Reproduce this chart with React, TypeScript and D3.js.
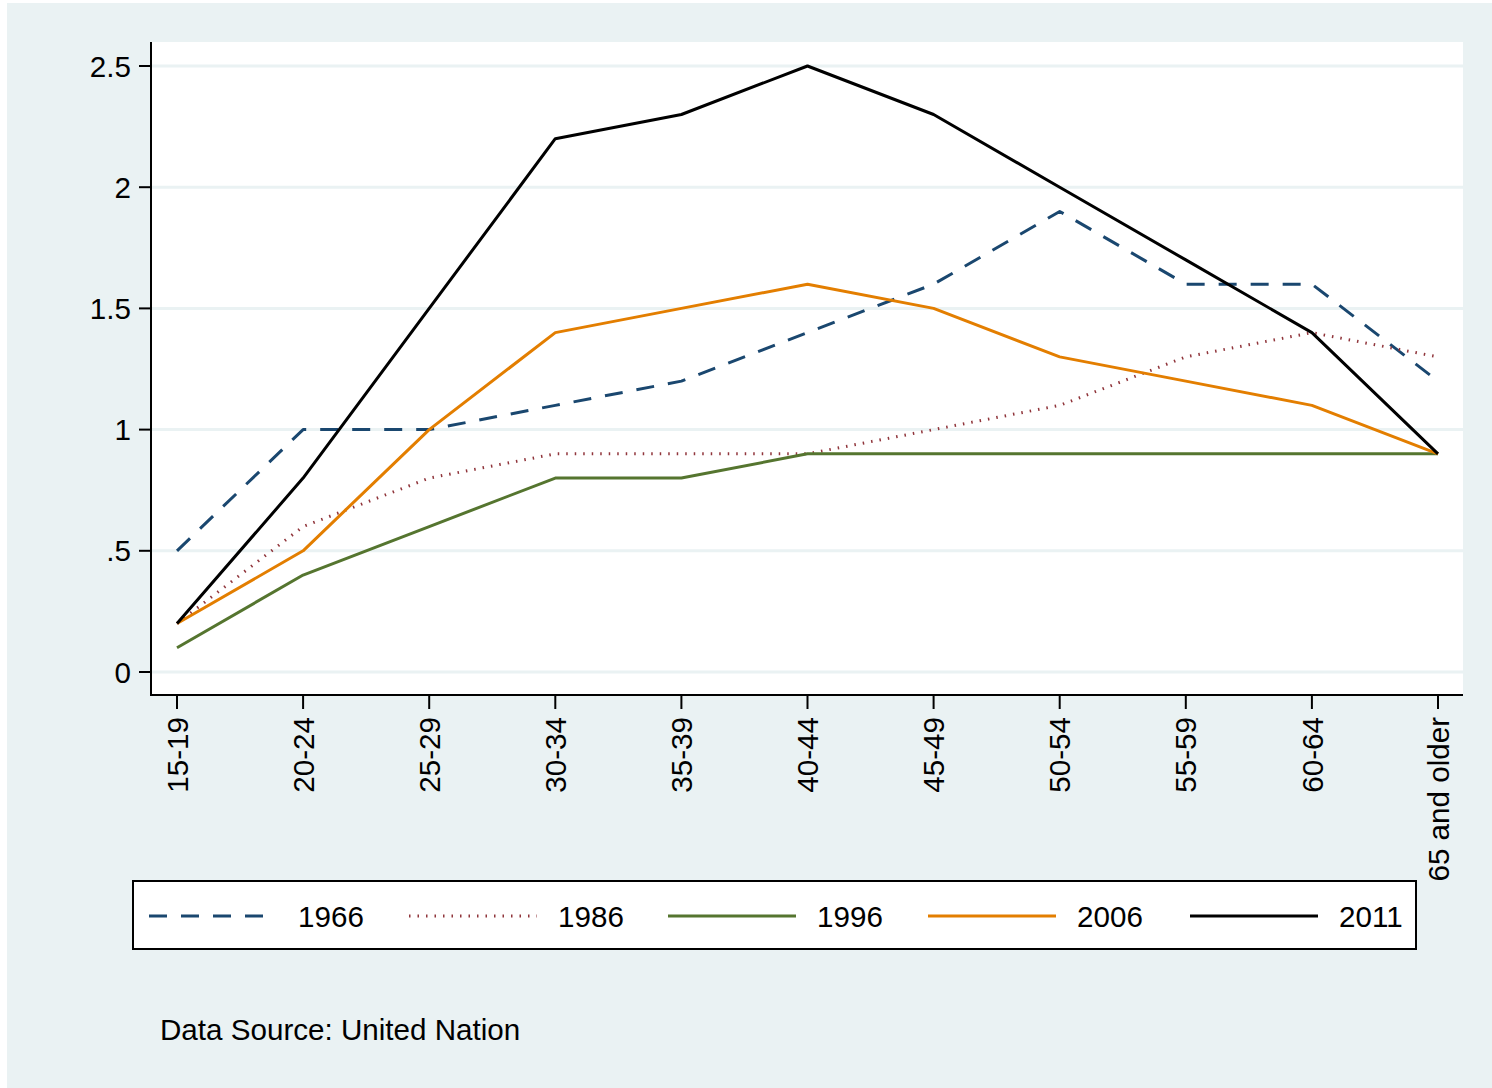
import React, { useEffect, useRef } from 'react';
import * as d3 from 'd3';

const ageGroups = ['15-19', '20-24', '25-29', '30-34', '35-39', '40-44', '45-49', '50-54', '55-59', '60-64', '65 and older'];

const v1966 = [0.5, 1.0, 1.0, 1.1, 1.2, 1.4, 1.6, 1.9, 1.6, 1.6, 1.2];
const v1986 = [0.2, 0.6, 0.8, 0.9, 0.9, 0.9, 1.0, 1.1, 1.3, 1.4, 1.3];
const v1996 = [0.1, 0.4, 0.6, 0.8, 0.8, 0.9, 0.9, 0.9, 0.9, 0.9, 0.9];
const v2006 = [0.2, 0.5, 1.0, 1.4, 1.5, 1.6, 1.5, 1.3, 1.2, 1.1, 0.9];
const v2011 = [0.2, 0.8, 1.5, 2.2, 2.3, 2.5, 2.3, 2.0, 1.7, 1.4, 0.9];

const yTicks = [0, 0.5, 1, 1.5, 2, 2.5];
const yTickLabels = ['0', '.5', '1', '1.5', '2', '2.5'];

interface Series {
  name: string;
  values: number[];
  color: string;
  dash: string | null;
  width: number;
}

const series: Series[] = [
  { name: '1966', values: v1966, color: '#1a476f', dash: '18,14', width: 3 },
  { name: '1986', values: v1986, color: '#90353b', dash: '1.5,7', width: 3 },
  { name: '1996', values: v1996, color: '#55752f', dash: null, width: 3 },
  { name: '2006', values: v2006, color: '#e37e00', dash: null, width: 3 },
  { name: '2011', values: v2011, color: '#000000', dash: null, width: 3 },
];

const W = 1485;
const H = 1085;
const FONT = 'Liberation Sans, Arial, sans-serif';
const FS = 29.6;

const App: React.FC = () => {
  const svgRef = useRef<SVGSVGElement>(null);

  useEffect(() => {
    if (!svgRef.current) return;
    const svg = d3.select(svgRef.current);
    svg.selectAll('*').remove();

    // offsets relative to the svg (placed at 7,3 on the page)
    const ox = 7;
    const oy = 3;
    const plot = { left: 151 - ox, right: 1463 - ox, top: 42 - oy, bottom: 695 - oy };

    svg.append('rect').attr('width', W).attr('height', H).attr('fill', '#eaf2f3');
    svg.append('rect')
      .attr('x', plot.left).attr('y', plot.top)
      .attr('width', plot.right - plot.left).attr('height', plot.bottom - plot.top)
      .attr('fill', '#ffffff');

    const x = d3.scalePoint<string>()
      .domain(ageGroups)
      .range([177 - ox, 1438 - ox]);

    const y = d3.scaleLinear()
      .domain([0, 2.5])
      .range([672 - oy, 66 - oy]);

    // grid
    svg.append('g').selectAll('line')
      .data(yTicks)
      .enter()
      .append('line')
      .attr('x1', plot.left + 1)
      .attr('x2', plot.right)
      .attr('y1', d => y(d))
      .attr('y2', d => y(d))
      .attr('stroke', '#eaf2f3')
      .attr('stroke-width', 3);

    // lines
    const line = d3.line<number>()
      .x((_, i) => x(ageGroups[i]) as number)
      .y(d => y(d));

    series.forEach(s => {
      svg.append('path')
        .datum(s.values)
        .attr('d', line)
        .attr('fill', 'none')
        .attr('stroke', s.color)
        .attr('stroke-width', s.width)
        .attr('stroke-linejoin', 'round')
        .attr('stroke-dasharray', s.dash ?? null);
    });

    // y axis
    const yAxis = svg.append('g');
    yAxis.append('line')
      .attr('x1', plot.left).attr('x2', plot.left)
      .attr('y1', plot.top).attr('y2', plot.bottom + 1)
      .attr('stroke', '#000').attr('stroke-width', 2);
    yTicks.forEach((t, i) => {
      yAxis.append('line')
        .attr('x1', plot.left - 12).attr('x2', plot.left)
        .attr('y1', y(t)).attr('y2', y(t))
        .attr('stroke', '#000').attr('stroke-width', 2);
      yAxis.append('text')
        .attr('x', plot.left - 20)
        .attr('y', y(t))
        .attr('dy', '0.36em')
        .attr('text-anchor', 'end')
        .attr('font-family', FONT)
        .attr('font-size', FS)
        .text(yTickLabels[i]);
    });

    // x axis
    const xAxis = svg.append('g');
    xAxis.append('line')
      .attr('x1', plot.left - 1).attr('x2', plot.right)
      .attr('y1', plot.bottom).attr('y2', plot.bottom)
      .attr('stroke', '#000').attr('stroke-width', 2);
    ageGroups.forEach(g => {
      const xp = x(g) as number;
      xAxis.append('line')
        .attr('x1', xp).attr('x2', xp)
        .attr('y1', plot.bottom).attr('y2', plot.bottom + 14)
        .attr('stroke', '#000').attr('stroke-width', 2);
      xAxis.append('text')
        .attr('transform', `translate(${xp},${plot.bottom + 22}) rotate(-90)`)
        .attr('dy', '0.36em')
        .attr('text-anchor', 'end')
        .attr('font-family', FONT)
        .attr('font-size', FS)
        .text(g);
    });

    // legend
    const lg = svg.append('g');
    lg.append('rect')
      .attr('x', 133 - ox).attr('y', 881 - oy)
      .attr('width', 1283).attr('height', 68)
      .attr('fill', '#ffffff')
      .attr('stroke', '#000').attr('stroke-width', 2);
    const legendLineX = [149, 409, 668, 928, 1190];
    const legendCy = 916 - oy;
    series.forEach((s, i) => {
      const lx = legendLineX[i] - ox;
      lg.append('line')
        .attr('x1', lx).attr('x2', lx + 128)
        .attr('y1', legendCy).attr('y2', legendCy)
        .attr('stroke', s.color)
        .attr('stroke-width', s.width)
        .attr('stroke-dasharray', s.dash ?? null);
      lg.append('text')
        .attr('x', lx + 149)
        .attr('y', legendCy)
        .attr('dy', '0.36em')
        .attr('font-family', FONT)
        .attr('font-size', FS)
        .text(s.name);
    });

    // note
    svg.append('text')
      .attr('x', 160 - ox)
      .attr('y', 1040 - oy)
      .attr('font-family', FONT)
      .attr('font-size', FS)
      .text('Data Source: United Nation');
  }, []);

  return (
    <svg
      ref={svgRef}
      width={W}
      height={H}
      style={{ position: 'absolute', left: 7, top: 3, display: 'block' }}
    />
  );
};

export default App;
